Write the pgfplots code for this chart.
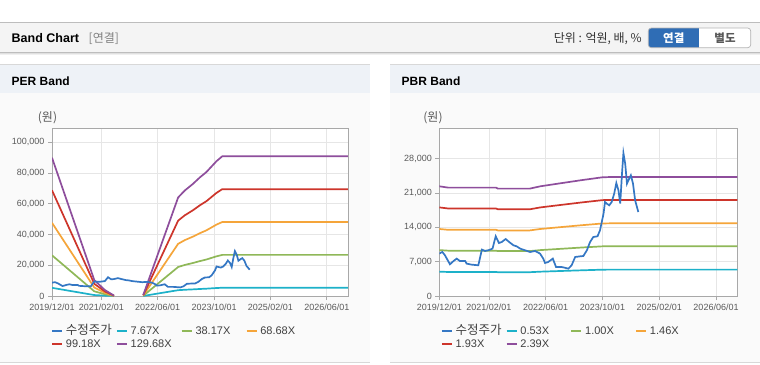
\documentclass[border=0pt]{standalone}
\usepackage{fontspec}
\setmainfont{Liberation Sans}
\newfontfamily\kr{Noto Sans CJK KR}
\usepackage{pgfplots}
\pgfplotsset{compat=1.18}
\definecolor{cPrice}{HTML}{3477C4}
\definecolor{cCyan}{HTML}{1DB1C9}
\definecolor{cGreen}{HTML}{8FB858}
\definecolor{cOrange}{HTML}{F5A53A}
\definecolor{cRed}{HTML}{CD352B}
\definecolor{cPurple}{HTML}{8E4E9C}
\definecolor{axisgray}{HTML}{A8A8A8}
\definecolor{gridgray}{HTML}{E6E6E6}
\definecolor{ticktext}{HTML}{5A5A5A}
\definecolor{legtext}{HTML}{404040}
\definecolor{hdrfill}{HTML}{F4F4F4}
\definecolor{hdrline}{HTML}{BDBDBD}
\definecolor{panelhead}{HTML}{EEF2F7}
\definecolor{panelbody}{HTML}{FAFAFA}
\definecolor{panelline}{HTML}{D8D8D8}
\definecolor{btnblue}{HTML}{2F6DB5}
\definecolor{btnborder}{HTML}{B5B5B5}

\pgfplotsset{
  bandaxis/.style={
    scale only axis,
    xmin=0, xmax=84, ymin=0,
    axis background/.style={fill=white},
    axis line style={axisgray, line width=0.8pt},
    grid=major,
    major grid style={gridgray, line width=0.8pt},
    tick style={axisgray, line width=0.8pt},
    tick align=outside,
    major tick length=4pt,
    xtick pos=left, ytick pos=left,
    xtick={0,14,30,46,62,78},
    xticklabels={2019/12/01,2021/02/01,2022/06/01,2023/10/01,2025/02/01,2026/06/01},
    ticklabel style={font=\fontsize{9}{10}\selectfont, text=ticktext},
    /pgf/number format/fixed,
    /pgf/number format/precision=0,
    /pgf/number format/assume math mode=true,
    /pgf/number format/1000 sep={,},
    scaled y ticks=false,
    unbounded coords=jump,
    every axis plot/.append style={line width=1.7pt, no marks},
    legend cell align=left,
    legend columns=4,
    legend image code/.code={\draw[##1, line width=2.6pt] (0pt,0pt) -- (10pt,0pt);},
    legend style={
      draw=none, fill=none, inner sep=0pt, outer sep=0pt,
      anchor=north west,
      column sep=0pt, row sep=2.2pt,
      font=\fontsize{11}{12}\selectfont,
      nodes={inner sep=0pt, text width=49.7pt, text height=8.5pt, text depth=2pt, text=legtext},
      /tikz/every odd column/.append style={column sep=2.5pt},
    },
  }
}

\pgfplotstableread{
m p
0 8650
0.85 9000
1.6 8300
3 6470
4 7140
4.9 7630
5.8 7140
7.3 7140
7.7 6610
9.1 6400
11 6270
12 9470
12.9 9190
13.8 9330
15 9670
15.9 12190
16.8 10820
17.6 11020
18.7 11630
19.7 11020
20.9 10350
21.8 10140
22.8 9670
24.2 9330
25.6 8980
27 9190
28.4 8650
29.3 7630
29.8 6740
30.7 6940
32 7630
32.9 5920
34.5 5920
36.4 5590
37.3 6270
38.3 7960
39.7 8100
40.6 8160
41.6 9330
42.5 11020
43.4 12040
44.6 12190
45.3 13410
45.8 15100
46.3 16820
46.7 19190
47.2 18860
47.9 18510
48.6 19190
49.3 20900
49.9 23060
50.5 21570
51 18860
51.5 24980
51.9 29190
52.4 27020
52.9 22940
53.3 23610
54 24630
54.6 22940
55.2 19530
56.1 17140
}\pricetable

\pgfplotstableread{
m b1 b2 b3 b4 b5
0 5315 26452 47595 68732 89868
12 614 3054 5494 7934 10374
15 230 1145 2060 2975 3890
17.6 15 76 137 198 259
21 nan nan nan nan nan
25.9 38 191 343 496 648
35.8 3789 18856 33928 48995 64062
37.7 4057 20192 36332 52466 68601
40 4311 21452 38598 55739 72880
42 4564 22711 40865 59012 77160
43.8 4763 23704 42650 61591 80531
46.7 5185 25803 46428 67046 87664
48.3 5369 26719 48076 69426 90776
84 5369 26719 48076 69426 90776
}\pertable

\pgfplotstableread{
m b1 b2 b3 b4 b5
0 4966 9370 13680 18084 22394
2.5 4905 9255 13512 17862 22119
16 4905 9255 13512 17862 22119
16.5 4860 9170 13388 17698 21916
25.5 4860 9170 13388 17698 21916
28.5 4966 9370 13680 18084 22394
34 5099 9620 14045 18567 22992
40 5242 9890 14439 19088 23637
46 5374 10140 14804 19570 24235
48.2 5385 10160 14834 19609 24282
84 5385 10160 14834 19609 24282
}\pbrtable

\newcommand{\krleg}{\fontsize{12.5}{12}\selectfont\kr 수정주가}

\begin{document}
\begin{tikzpicture}
\useasboundingbox (0,0) rectangle (760pt,-364pt);
\fill[white] (0,0) rectangle (760pt,-364pt);
% header bar
\fill[hdrfill] (0,-22.5pt) rectangle (760pt,-52.5pt);
\draw[hdrline, line width=0.8pt] (0,-22.5pt) -- (760pt,-22.5pt);
\draw[hdrline, line width=0.8pt] (0,-52.5pt) -- (760pt,-52.5pt);
\draw[black!12, line width=0.8pt] (0,-53.6pt) -- (760pt,-53.6pt);
\draw[black!6, line width=0.8pt] (0,-54.6pt) -- (760pt,-54.6pt);
\node[anchor=base west, inner sep=0pt, font=\bfseries\fontsize{12.5}{14}\selectfont] at (11.5pt,-42.7pt) {Band Chart};
\node[anchor=base west, inner sep=0pt, text=black!50, font=\fontsize{12}{14}\selectfont] at (88.5pt,-42.9pt) {\kr [연결]};
\node[anchor=base east, inner sep=0pt, text=black!80, font=\fontsize{12}{14}\selectfont] at (642pt,-42.7pt) {\kr 단위 : 억원, 배, \%};
% buttons
\begin{scope}
\clip[rounded corners=3pt] (648.3pt,-28pt) rectangle (750.7pt,-47.7pt);
\fill[white] (648.3pt,-28pt) rectangle (750.7pt,-47.7pt);
\fill[btnblue] (648.3pt,-28pt) rectangle (699.3pt,-47.7pt);
\end{scope}
\draw[btnborder, line width=0.7pt, rounded corners=3pt] (648.3pt,-28pt) rectangle (750.7pt,-47.7pt);
\node[text=white, font=\fontsize{11.5}{12}\selectfont] at (673.8pt,-37.9pt) {\kr\bfseries 연결};
\node[text=black!65, font=\fontsize{11.5}{12}\selectfont] at (725pt,-37.9pt) {\kr\bfseries 별도};
% panels
\fill[panelbody] (0,-93pt) rectangle (370pt,-362.5pt);
\fill[panelhead] (0,-64pt) rectangle (370pt,-93pt);
\draw[panelline, line width=0.8pt] (0,-64pt) -- (370pt,-64pt);
\draw[panelline, line width=0.8pt] (0,-362.5pt) -- (370pt,-362.5pt);
\fill[panelbody] (390pt,-93pt) rectangle (760pt,-362.5pt);
\fill[panelhead] (390pt,-64pt) rectangle (760pt,-93pt);
\draw[panelline, line width=0.8pt] (390pt,-64pt) -- (760pt,-64pt);
\draw[panelline, line width=0.8pt] (390pt,-362.5pt) -- (760pt,-362.5pt);
\node[anchor=base west, inner sep=0pt, font=\bfseries\fontsize{12}{14}\selectfont] at (11.5pt,-85pt) {PER Band};
\node[anchor=base west, inner sep=0pt, font=\bfseries\fontsize{12}{14}\selectfont] at (401.5pt,-85pt) {PBR Band};
\node[text=ticktext, font=\fontsize{12}{12}\selectfont] at (47.5pt,-118pt) {\kr (원)};
\node[text=ticktext, font=\fontsize{12}{12}\selectfont] at (433pt,-118pt) {\kr (원)};

% PER axis
\begin{axis}[bandaxis,
  at={(52pt,-296pt)}, anchor=south west,
  width=296pt, height=167.7pt,
  ymax=109000, ytick={0,20000,40000,60000,80000,100000},
  legend style={at={(axis description cs:-0.004,-0.178)}},
]
\addlegendimage{cPrice}\addlegendentry{\krleg}
\addlegendimage{cCyan}\addlegendentry{7.67X}
\addlegendimage{cGreen}\addlegendentry{38.17X}
\addlegendimage{cOrange}\addlegendentry{68.68X}
\addlegendimage{cRed}\addlegendentry{99.18X}
\addlegendimage{cPurple}\addlegendentry{129.68X}
\addplot[cCyan, forget plot] table[x=m, y=b1] {\pertable};
\addplot[cGreen, forget plot] table[x=m, y=b2] {\pertable};
\addplot[cOrange, forget plot] table[x=m, y=b3] {\pertable};
\addplot[cRed, forget plot] table[x=m, y=b4] {\pertable};
\addplot[cPurple, forget plot] table[x=m, y=b5] {\pertable};
\addplot[cPrice, forget plot] table[x=m, y=p] {\pricetable};
\end{axis}

% PBR axis
\begin{axis}[bandaxis,
  at={(439.3pt,-296pt)}, anchor=south west,
  width=298pt, height=167.7pt,
  ymax=34230, ytick={0,7000,14000,21000,28000},
  legend style={at={(axis description cs:0.004,-0.178)}},
]
\addlegendimage{cPrice}\addlegendentry{\krleg}
\addlegendimage{cCyan}\addlegendentry{0.53X}
\addlegendimage{cGreen}\addlegendentry{1.00X}
\addlegendimage{cOrange}\addlegendentry{1.46X}
\addlegendimage{cRed}\addlegendentry{1.93X}
\addlegendimage{cPurple}\addlegendentry{2.39X}
\addplot[cCyan, forget plot] table[x=m, y=b1] {\pbrtable};
\addplot[cGreen, forget plot] table[x=m, y=b2] {\pbrtable};
\addplot[cOrange, forget plot] table[x=m, y=b3] {\pbrtable};
\addplot[cRed, forget plot] table[x=m, y=b4] {\pbrtable};
\addplot[cPurple, forget plot] table[x=m, y=b5] {\pbrtable};
\addplot[cPrice, forget plot] table[x=m, y=p] {\pricetable};
\end{axis}
\end{tikzpicture}
\end{document}
